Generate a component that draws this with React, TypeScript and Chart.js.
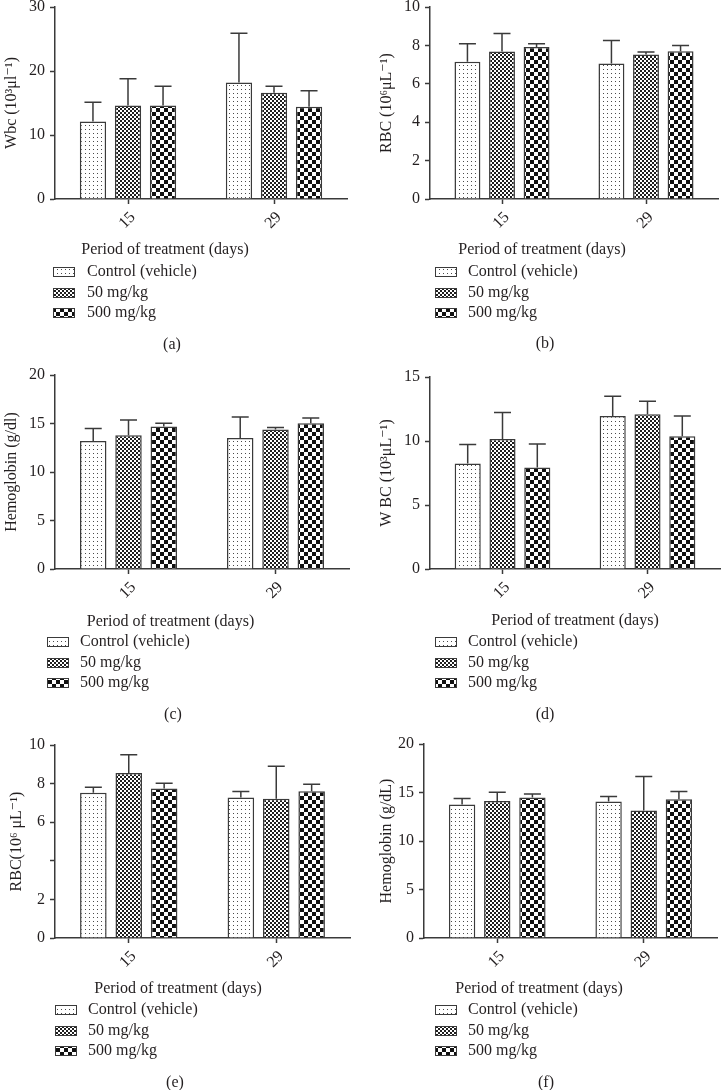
import React, { useEffect, useRef } from 'react';
import { Chart, registerables } from 'chart.js';

Chart.register(...registerables);

// ---------- data ----------
const days = ['15', '29'];
const groupNames = ['Control (vehicle)', '50 mg/kg', '500 mg/kg'];
const xAxisTitle = 'Period of treatment (days)';

// (a) Wbc
const aControl = [12.1, 18.2];
const aControlSd = [3.0, 7.7];
const a50 = [14.6, 16.6];
const a50Sd = [4.2, 1.0];
const a500 = [14.6, 14.4];
const a500Sd = [3.0, 2.5];

// (b) RBC
const bControl = [7.15, 7.06];
const bControlSd = [0.93, 1.19];
const b50 = [7.68, 7.53];
const b50Sd = [0.94, 0.13];
const b500 = [7.92, 7.7];
const b500Sd = [0.17, 0.29];

// (c) Hemoglobin
const cControl = [13.2, 13.5];
const cControlSd = [1.28, 2.18];
const c50 = [13.8, 14.37];
const c50Sd = [1.57, 0.23];
const c500 = [14.68, 15.03];
const c500Sd = [0.35, 0.54];

// (d) WBC
const dControl = [8.25, 11.96];
const dControlSd = [1.48, 1.54];
const d50 = [10.15, 12.09];
const d50Sd = [2.07, 1.01];
const d500 = [7.92, 10.38];
const d500Sd = [1.84, 1.58];

// (e) RBC
const eControl = [7.53, 7.28];
const eControlSd = [0.28, 0.31];
const e50 = [8.55, 7.22];
const e50Sd = [0.95, 1.68];
const e500 = [7.74, 7.6];
const e500Sd = [0.28, 0.37];

// (f) Hemoglobin
const fControl = [13.76, 14.07];
const fControlSd = [0.61, 0.51];
const f50 = [14.13, 13.14];
const f50Sd = [0.9, 3.5];
const f500 = [14.48, 14.3];
const f500Sd = [0.37, 0.8];

// ---------- styles ----------
const FONT_FAMILY = '"Liberation Serif", "Times New Roman", "DejaVu Serif", serif';
const TEXT = '#231f20';
const LINE = '#3a3a3a';

Chart.defaults.font.family = FONT_FAMILY;
Chart.defaults.font.size = 16;
Chart.defaults.color = TEXT;

type PanelCfg = {
  id: string;
  x: number;
  y: number;
  w: number;
  h: number;
  area: { l: number; r: number; t: number; b: number };
  yMax: number;
  yStep: number;
  yTitle: string;
  yTitlePad: number;
  hideTick?: number[];
  legend: { titleX: number; titleY: number; swX: number; txX: number; rows: number[]; capX: number; capY: number };
  series: number[][][];
};

const panels: PanelCfg[] = [
  {
    id: 'a', x: 0, y: 0, w: 362, h: 372,
    area: { l: 55, r: 347, t: 7, b: 199 },
    yMax: 30, yStep: 10, yTitle: 'Wbc (10³μl⁻¹)', yTitlePad: 2,
    legend: { titleX: 165, titleY: 250, swX: 53, txX: 87, rows: [272, 292.5, 312.5], capX: 172, capY: 345 },
    series: [[aControl, aControlSd], [a50, a50Sd], [a500, a500Sd]],
  },
  {
    id: 'b', x: 362, y: 0, w: 363, h: 372,
    area: { l: 68, r: 356, t: 7, b: 199 },
    yMax: 10, yStep: 2, yTitle: 'RBC (10⁶μL⁻¹)', yTitlePad: 15,
    legend: { titleX: 180, titleY: 249.5, swX: 73, txX: 106, rows: [272, 292.5, 312.5], capX: 183, capY: 344 },
    series: [[bControl, bControlSd], [b50, b50Sd], [b500, b500Sd]],
  },
  {
    id: 'c', x: 0, y: 360, w: 362, h: 372,
    area: { l: 55, r: 349, t: 15, b: 209 },
    yMax: 20, yStep: 5, yTitle: 'Hemoglobin (g/dl)', yTitlePad: 2,
    legend: { titleX: 170.5, titleY: 261.5, swX: 47, txX: 80, rows: [282, 302.5, 322.5], capX: 173, capY: 355 },
    series: [[cControl, cControlSd], [c50, c50Sd], [c500, c500Sd]],
  },
  {
    id: 'd', x: 362, y: 360, w: 363, h: 372,
    area: { l: 68, r: 358, t: 17, b: 209 },
    yMax: 15, yStep: 5, yTitle: 'W BC (10³μL⁻¹)', yTitlePad: 15,
    legend: { titleX: 213, titleY: 260.5, swX: 73, txX: 106, rows: [282, 302.5, 322.5], capX: 183, capY: 355 },
    series: [[dControl, dControlSd], [d50, d50Sd], [d500, d500Sd]],
  },
  {
    id: 'e', x: 0, y: 720, w: 362, h: 370,
    area: { l: 55, r: 350, t: 25, b: 218 },
    yMax: 10, yStep: 2, yTitle: 'RBC(10⁶ μL⁻¹)', yTitlePad: 7, hideTick: [4],
    legend: { titleX: 178, titleY: 268.5, swX: 55, txX: 88, rows: [290, 311, 331], capX: 175, capY: 363 },
    series: [[eControl, eControlSd], [e50, e50Sd], [e500, e500Sd]],
  },
  {
    id: 'f', x: 362, y: 720, w: 363, h: 370,
    area: { l: 62, r: 355, t: 24, b: 218 },
    yMax: 20, yStep: 5, yTitle: 'Hemoglobin (g/dL)', yTitlePad: 15,
    legend: { titleX: 177, titleY: 268.5, swX: 73, txX: 106, rows: [290, 311, 331], capX: 184, capY: 363 },
    series: [[fControl, fControlSd], [f50, f50Sd], [f500, f500Sd]],
  },
];

// ---------- patterns ----------
let patternCache: CanvasPattern[] | null = null;
function getPatterns(): CanvasPattern[] {
  if (patternCache) return patternCache;
  const mk = (size: number, draw: (c: CanvasRenderingContext2D) => void) => {
    const cv = document.createElement('canvas');
    cv.width = size;
    cv.height = size;
    const c = cv.getContext('2d')!;
    c.fillStyle = '#ffffff';
    c.fillRect(0, 0, size, size);
    draw(c);
    return c.createPattern(cv, 'repeat')!;
  };
  const dots = mk(4, (c) => {
    c.fillStyle = '#4a4a4a';
    c.fillRect(1, 1, 1, 1);
  });
  const fine = mk(4, (c) => {
    c.fillStyle = '#1e1e1e';
    c.fillRect(0, 0, 2, 2);
    c.fillRect(2, 2, 2, 2);
  });
  const coarse = mk(8, (c) => {
    c.fillStyle = '#111111';
    c.fillRect(0, 0, 4, 4);
    c.fillRect(4, 4, 4, 4);
  });
  patternCache = [dots, fine, coarse];
  return patternCache;
}

// ---------- plugins ----------
function errorBarPlugin(cfg: PanelCfg) {
  return {
    id: 'errorBars',
    afterDatasetsDraw(chart: any) {
      const ctx = chart.ctx;
      const yScale = chart.scales.y;
      ctx.save();
      ctx.strokeStyle = LINE;
      ctx.lineWidth = 1.5;
      cfg.series.forEach((s, di) => {
        const meta = chart.getDatasetMeta(di);
        meta.data.forEach((bar: any, i: number) => {
          const top = yScale.getPixelForValue(s[0][i] + s[1][i]);
          ctx.beginPath();
          ctx.moveTo(bar.x, bar.y);
          ctx.lineTo(bar.x, top);
          ctx.moveTo(bar.x - 8.5, top);
          ctx.lineTo(bar.x + 8.5, top);
          ctx.stroke();
        });
      });
      ctx.restore();
    },
  };
}

function decorPlugin(cfg: PanelCfg) {
  return {
    id: 'decor',
    afterDraw(chart: any) {
      const ctx = chart.ctx;
      const L = cfg.legend;
      const pats = getPatterns();
      ctx.save();
      ctx.font = `16px ${FONT_FAMILY}`;
      ctx.fillStyle = TEXT;
      ctx.textBaseline = 'middle';
      ctx.textAlign = 'center';
      ctx.fillText(xAxisTitle, L.titleX, L.titleY);
      ctx.textAlign = 'left';
      groupNames.forEach((name, i) => {
        const y = L.rows[i];
        ctx.fillStyle = pats[i];
        ctx.fillRect(L.swX, Math.round(y - 5), 22, 10);
        ctx.strokeStyle = LINE;
        ctx.lineWidth = 1;
        ctx.strokeRect(L.swX + 0.5, Math.round(y - 5) + 0.5, 21, 9);
        ctx.fillStyle = TEXT;
        ctx.fillText(name, L.txX, y);
      });
      ctx.textAlign = 'center';
      ctx.fillText(`(${cfg.id})`, L.capX, L.capY);
      ctx.restore();
    },
  };
}

// ---------- components ----------
function Panel({ cfg }: { cfg: PanelCfg }) {
  const ref = useRef<HTMLCanvasElement | null>(null);

  useEffect(() => {
    const canvas = ref.current;
    if (!canvas) return;
    const pats = getPatterns();
    const X_AXIS_H = 40;
    const chart = new Chart(canvas, {
      type: 'bar',
      data: {
        labels: days,
        datasets: cfg.series.map((s, i) => ({
          label: groupNames[i],
          data: s[0],
          backgroundColor: pats[i],
          borderColor: LINE,
          borderWidth: 1.5,
          categoryPercentage: 0.72,
          barPercentage: 0.75,
        })),
      },
      options: {
        responsive: false,
        animation: false,
        devicePixelRatio: 1,
        layout: {
          padding: {
            left: 0,
            top: cfg.area.t,
            right: cfg.w - cfg.area.r,
            bottom: cfg.h - cfg.area.b - X_AXIS_H,
          },
        },
        plugins: {
          legend: { display: false },
          tooltip: { enabled: false },
          title: { display: false },
        },
        scales: {
          x: {
            type: 'category',
            offset: true,
            grid: {
              display: true,
              offset: false,
              drawOnChartArea: false,
              drawTicks: true,
              tickLength: 5,
              tickColor: LINE,
              tickWidth: 1.5,
            },
            border: { display: true, color: LINE, width: 1.5 },
            ticks: {
              minRotation: 45,
              maxRotation: 45,
              padding: 4,
              labelOffset: 5,
              color: TEXT,
              font: { size: 16, family: FONT_FAMILY },
            },
            afterFit: (s: any) => {
              s.height = X_AXIS_H;
              s.paddingLeft = 0;
              s.paddingRight = 0;
            },
          },
          y: {
            min: 0,
            max: cfg.yMax,
            grid: {
              display: true,
              drawOnChartArea: false,
              drawTicks: true,
              tickLength: 5,
              tickColor: LINE,
              tickWidth: 1.5,
            },
            border: { display: true, color: LINE, width: 1.5 },
            ticks: {
              stepSize: cfg.yStep,
              padding: 5,
              color: TEXT,
              font: { size: 16, family: FONT_FAMILY },
              callback: (v: any) => ((cfg.hideTick || []).includes(Number(v)) ? '' : String(v)),
            },
            title: {
              display: true,
              text: cfg.yTitle,
              color: TEXT,
              font: { size: 16, family: FONT_FAMILY },
              padding: { top: cfg.yTitlePad, bottom: 0 },
            },
            afterFit: (s: any) => {
              s.width = cfg.area.l;
              s.paddingTop = 0;
              s.paddingBottom = 0;
            },
          },
        },
      },
      plugins: [errorBarPlugin(cfg), decorPlugin(cfg)],
    } as any);
    return () => chart.destroy();
  }, [cfg]);

  return (
    <canvas
      ref={ref}
      width={cfg.w}
      height={cfg.h}
      style={{ position: 'absolute', left: cfg.x, top: cfg.y, width: cfg.w, height: cfg.h }}
    />
  );
}

export default function App() {
  return (
    <div
      style={{
        position: 'fixed',
        left: 0,
        top: 0,
        width: 725,
        height: 1090,
        background: '#ffffff',
        overflow: 'hidden',
      }}
    >
      {panels.map((p) => (
        <Panel key={p.id} cfg={p} />
      ))}
    </div>
  );
}
